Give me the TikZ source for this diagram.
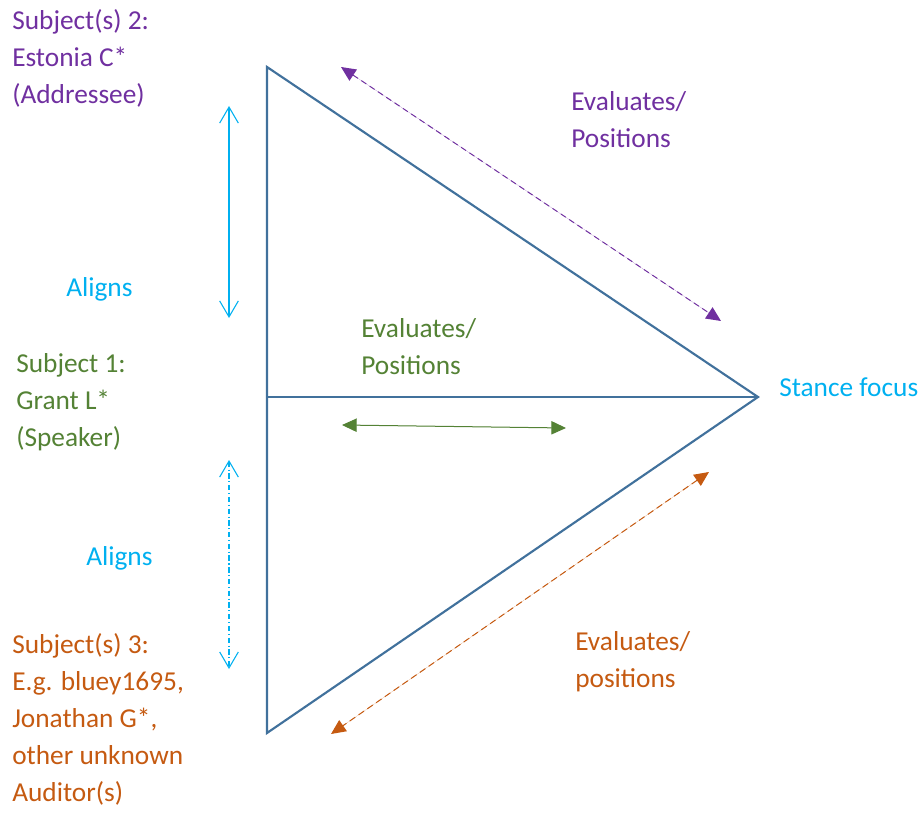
\documentclass[tikz,border=0pt]{standalone}
\usepackage{fontspec}
\setmainfont{Carlito}
\usetikzlibrary{arrows.meta}
\definecolor{frame}{HTML}{41719C}
\definecolor{violet2}{HTML}{7030A0}
\definecolor{leaf}{HTML}{548235}
\definecolor{rust}{HTML}{C55A11}
\definecolor{sky}{HTML}{00B0F0}
\begin{document}
\begin{tikzpicture}[x=0.75pt,y=-0.75pt,
  lbl/.style={anchor=base west,inner sep=0pt,font=\fontsize{20.5pt}{27.75pt}\selectfont,align=left},
  edge/.style={draw=frame,line width=1.6pt},
  alignarrow/.style={draw=sky,line width=0.8pt,{Straight Barb[length=12pt,width=14pt,line width=0.8pt]}-{Straight Barb[length=12pt,width=14pt,line width=0.8pt]}},
  evalarrow/.style={line width=0.75pt,{Triangle[length=11pt,width=10pt]}-{Triangle[length=11pt,width=10pt]}}]
\useasboundingbox (0,0) rectangle (921,813);

% the stance triangle
\coordinate (top) at (267,67);
\coordinate (bot) at (267,733);
\coordinate (apex) at (758,397);
\coordinate (mid) at (267,397);
\draw[edge,line join=miter] (top) -- (apex) -- (bot) -- cycle;
\draw[edge] (mid) -- (apex);

% subjects (multi-line labels are placed by the baseline of their last line)
\node[lbl,text=violet2] (s2) at (12,104) {Subject(s) 2:\\Estonia C*\\(Addressee)};
\node[lbl,text=leaf] (s1) at (16,446) {Subject 1:\\Grant L*\\(Speaker)};
\node[lbl,text=rust] (s3) at (12,801) {Subject(s) 3:\\E.g. bluey1695,\\Jonathan G*,\\other unknown\\Auditor(s)};
\node[lbl,text=sky] (focus) at (779,396) {Stance focus};

% alignment arrows
\coordinate (a1t) at (229,106);
\coordinate (a1b) at (229,318);
\coordinate (a2t) at (229,460);
\coordinate (a2b) at (229,669);
\draw[alignarrow] (a1t) -- (a1b);
\draw[alignarrow,dash pattern=on 4pt off 2pt on 0.8pt off 2pt] (a2t) -- (a2b);
\node[lbl,text=sky] (al1) at (66,296) {Aligns};
\node[lbl,text=sky] (al2) at (86,565) {Aligns};

% evaluation arrows
\coordinate (gl) at (342,425);
\coordinate (gr) at (566,428);
\draw[evalarrow,draw=leaf,fill=leaf] (gl) -- (gr);
\node[lbl,text=leaf] (ev1) at (361,374) {Evaluates/\\Positions};

\coordinate (pt) at (341,67);
\coordinate (pb) at (721,321);
\draw[evalarrow,draw=violet2,fill=violet2,dash pattern=on 4.5pt off 3pt] (pt) -- (pb);
\node[lbl,text=violet2] (ev2) at (571,148) {Evaluates/\\Positions};

\coordinate (ot) at (709,472);
\coordinate (ob) at (331,734);
\draw[evalarrow,draw=rust,fill=rust,dash pattern=on 5pt off 3pt] (ot) -- (ob);
\node[lbl,text=rust] (ev3) at (575,687) {Evaluates/\\positions};
\end{tikzpicture}
\end{document}
